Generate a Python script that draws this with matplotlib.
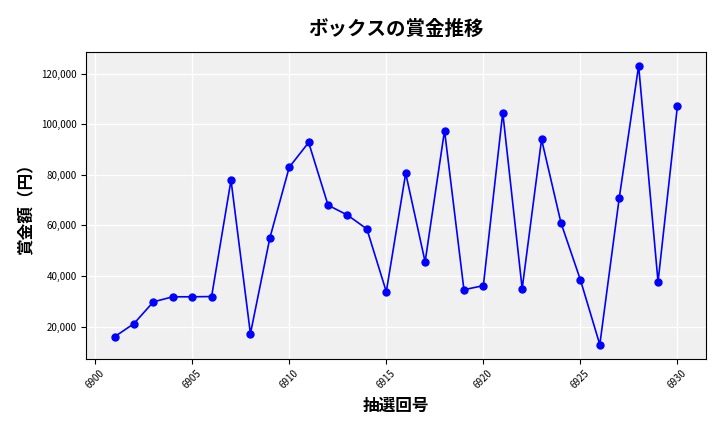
import matplotlib
matplotlib.use("Agg")
import matplotlib.pyplot as plt
from matplotlib.ticker import FuncFormatter

plt.rcParams['font.family'] = ['Noto Sans CJK JP', 'DejaVu Sans']

draws = list(range(6901, 6931))
prizes = [16000, 21200, 29800, 31800, 31800, 31900, 77900, 17200, 55000, 83000,
          92800, 68000, 64100, 58600, 33800, 80600, 45600, 97500, 34600, 36200,
          104600, 35000, 94000, 61000, 38500, 12900, 70800, 123100, 37700, 107300]

fig, ax = plt.subplots(figsize=(7.2, 4.32), dpi=100)
ax.set_facecolor('#f0f0f0')
ax.grid(True, color='white', linewidth=1)
ax.set_axisbelow(True)
ax.plot(draws, prizes, color='blue', marker='o', markersize=5, linewidth=1.2)
ax.set_title('ボックスの賞金推移', fontsize=14, fontweight='bold', pad=12)
ax.set_xlabel('抽選回号', fontsize=12, fontweight='bold')
ax.set_ylabel('賞金額（円）', fontsize=12, fontweight='bold')
ax.yaxis.set_major_formatter(FuncFormatter(lambda v, p: f'{int(v):,}'))
ax.set_xticks(range(6900, 6931, 5))
ax.tick_params(axis='x', labelrotation=45, labelsize=7)
ax.tick_params(axis='y', labelsize=7)
fig.subplots_adjust(left=0.12, right=0.98, top=0.88, bottom=0.17)
fig.savefig('out.png')
